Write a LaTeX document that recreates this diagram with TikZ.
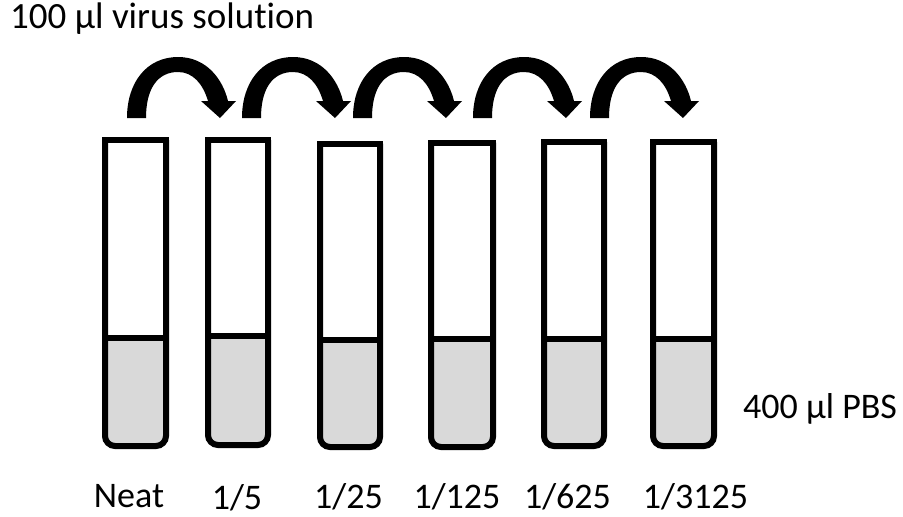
\documentclass[tikz,border=0pt]{standalone}
\usepackage{fontspec}
\setmainfont{Carlito}[RawFeature=-liga]
\begin{document}
\begin{tikzpicture}[x=1pt,y=-1pt,
  tubeline/.style={line width=6pt, draw=black},
  liquid/.style={fill=black!15},
  curvarrow/.style={fill=black},
  lbl/.style={anchor=base, inner sep=0pt, font=\fontsize{36}{40}\selectfont}]
\useasboundingbox[fill=white] (0,0) rectangle (903,517);
% tubes: x1, x2, top, bottom, liquid line
\foreach \xa/\xb/\tp/\bt/\lq/\n in {105/166/140/446/338/1, 208/268/140/445/336/2, 320/380/143.5/447/340/3, 431/493/142.5/447/338.5/4, 544/604/142/446/338.5/5, 653/714/142/446/338.5/6}{
  \fill[liquid, rounded corners=10pt] (\xa,\lq) -- (\xa,\bt) -- (\xb,\bt) -- (\xb,\lq);
  \draw[tubeline, rounded corners=10pt] (\xa,\tp) -- (\xa,\bt) -- (\xb,\bt) -- (\xb,\tp);
  \draw[tubeline, line cap=rect] (\xa,\tp) -- (\xb,\tp);
  \draw[tubeline] (\xa,\lq) -- (\xb,\lq);
  \coordinate (tube\n) at ({(\xa+\xb)/2},\bt);
}
% curved arrows
\foreach \xo in {127,242,353,473,590}{
  \begin{scope}[shift={(\xo,0)}]
    \fill[curvarrow] (0,118) .. controls (0,82) and (20,57) .. (51,57)
      .. controls (80,57) and (96,80) .. (101,101) -- (109,101) -- (93,118) -- (74,101) -- (81,101)
      .. controls (76,84) and (66,72) .. (51,72)
      .. controls (31,72) and (19,88) .. (19,118) -- cycle;
  \end{scope}
}
\node[anchor=base west, inner sep=0pt, font=\fontsize{37}{42}\selectfont] (virus) at (10,28) {100 µl virus solution};
\node[anchor=base west, inner sep=0pt, font=\fontsize{36}{40}\selectfont] (pbs) at (743,418) {400 µl PBS};
\node[lbl] (l1) at (129,507) {Neat};
\node[lbl] (l2) at (237,509) {1/5};
\node[lbl] (l3) at (348.5,508) {1/25};
\node[lbl] (l4) at (457,508) {1/125};
\node[lbl] (l5) at (567.5,508) {1/625};
\node[lbl] (l6) at (695.5,508) {1/3125};
\end{tikzpicture}
\end{document}
